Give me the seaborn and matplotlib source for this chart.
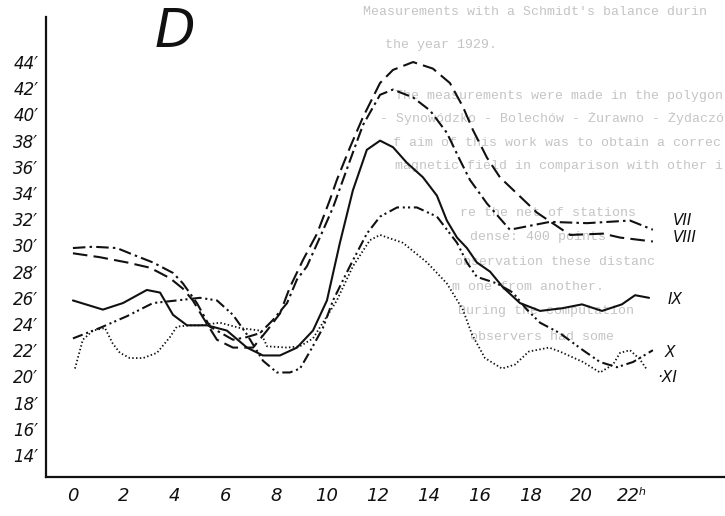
import numpy as np
import pandas as pd
import matplotlib
matplotlib.use("Agg")
import matplotlib.pyplot as plt
import seaborn as sns

# hours (h) and declination-like values (minutes of arc)
vii_h = [0, 0.79, 1.73, 2.36, 3.15, 3.94, 4.33, 4.88, 5.39, 6.3, 6.85, 7.36, 7.87, 8.43, 8.82,
         9.21, 9.72, 10.24, 10.91, 11.42, 12.09, 12.6, 13.39, 14.06, 14.72, 15.24, 15.63, 16.3,
         17.2, 18.78, 20.24, 21.93, 22.83]
vii_v = [29.8, 29.9, 29.8, 29.3, 28.7, 27.9, 27.1, 25.6, 23.8, 22.8, 23.0, 23.3, 24.3, 25.6, 27.4,
         28.4, 30.6, 32.9, 36.5, 39.2, 41.5, 41.9, 41.3, 40.3, 38.6, 36.5, 35.0, 33.2,
         31.2, 31.8, 31.7, 31.9, 31.2]

viii_h = [0, 1.06, 2.13, 3.03, 3.82, 4.33, 4.72, 5.12, 5.67, 6.3, 7.09, 7.64, 8.15, 8.54, 9.06,
          9.61, 10.12, 10.39, 10.91, 11.42, 12.09, 12.6, 13.39, 14.17, 14.84, 15.35, 15.75, 16.3,
          16.81, 18.27, 19.57, 20.87, 21.54, 22.83]
viii_v = [29.4, 29.1, 28.7, 28.3, 27.5, 26.7, 25.8, 24.5, 22.8, 22.2, 22.2, 23.5, 24.8, 26.8, 28.9,
          30.9, 33.5, 35.0, 37.5, 39.8, 42.4, 43.4, 44.0, 43.5, 42.4, 40.6, 38.8, 36.7,
          35.2, 32.5, 30.8, 30.9, 30.6, 30.3]

ix_h = [0, 1.18, 1.97, 2.91, 3.43, 3.94, 4.49, 5.28, 6.06, 6.85, 7.48, 8.15, 8.82, 9.45, 10.0,
        10.51, 11.02, 11.57, 12.09, 12.6, 13.15, 13.78, 14.33, 14.72, 15.12, 15.51, 15.9, 16.42,
        16.93, 17.6, 18.39, 19.25, 20.04, 20.83, 21.61, 22.13, 22.68]
ix_v = [25.8, 25.1, 25.6, 26.6, 26.4, 24.7, 23.9, 23.9, 23.5, 22.2, 21.6, 21.6, 22.2, 23.5, 25.8,
        30.2, 34.2, 37.3, 38.0, 37.5, 36.3, 35.2, 33.8, 31.9, 30.6, 29.8, 28.7, 28.0,
        26.8, 25.6, 25.0, 25.2, 25.5, 25.0, 25.5, 26.2, 26.0]

x_h = [0, 1.06, 2.13, 3.15, 4.09, 5.0, 5.67, 6.3, 6.85, 7.48, 8.03, 8.54, 8.94, 9.33, 9.84,
       10.24, 10.9, 11.57, 12.09, 12.76, 13.54, 14.33, 15.12, 15.51, 15.9, 16.69, 17.32, 17.87,
       18.39, 19.17, 20.08, 20.75, 21.42, 22.05, 22.83]
x_v = [22.9, 23.7, 24.6, 25.6, 25.8, 26.0, 25.8, 24.7, 23.2, 21.2, 20.3, 20.3, 20.6, 21.9, 23.7,
       25.8, 28.4, 30.9, 32.2, 32.9, 32.9, 32.2, 30.2, 28.7, 27.6, 27.1, 26.4, 25.1,
       24.1, 23.3, 22.0, 21.1, 20.7, 21.1, 22.0]

xi_h = [0.08, 0.39, 0.79, 1.26, 1.57, 1.85, 2.24, 2.76, 3.31, 3.82, 4.09, 4.61, 5.0, 5.79, 6.57,
        7.36, 7.64, 8.43, 8.94, 9.45, 10.39, 11.02, 11.69, 12.09, 12.99, 13.94, 14.72, 15.35,
        15.71, 16.22, 16.89, 17.4, 17.95, 18.74, 19.17, 20.08, 20.75, 21.26, 21.54, 21.93,
        22.32, 22.6]
xi_v = [20.6, 22.8, 23.5, 23.7, 22.5, 21.8, 21.4, 21.4, 21.8, 23.0, 23.8, 23.9, 23.9, 24.1, 23.7,
        23.5, 22.3, 22.2, 22.3, 22.9, 25.8, 28.4, 30.4, 30.8, 30.2, 28.7, 27.1, 25.1,
        23.2, 21.4, 20.6, 20.9, 21.9, 22.2, 21.9, 21.1, 20.3, 20.9, 21.8, 22.0,
        21.3, 20.5]

x_ticks = list(range(0, 25, 2))
x_labels = ["0", "2", "4", "6", "8", "10", "12", "14", "16", "18", "20", "22ʰ", ""]
y_ticks = list(range(14, 47, 2))
y_labels = [f"{v}′" for v in range(14, 45, 2)] + [""]

# faint text showing through from the scanned page (cut at the page edge)
ghost_lines = [
    (363, 12, "Measurements with a Schmidt's balance durin"),
    (385, 45, "the year 1929."),
    (395, 96, "The measurements were made in the polygon Sta"),
    (380, 119, "- Synowódzko - Bolechów - Żurawno - Żydaczów - Stryj"),
    (393, 143, "f aim of this work was to obtain a correct knowledge"),
    (395, 166, "magnetic field in comparison with other investigat"),
    (460, 213, "re the net of stations"),
    (470, 237, "dense: 400 points"),
    (455, 262, "observation these distanc"),
    (452, 287, "m one from another."),
    (458, 311, "During the computation"),
    (470, 337, "observers had some"),
]

frames = [
    pd.DataFrame({"h": vii_h, "v": vii_v, "s": "VII"}),
    pd.DataFrame({"h": viii_h, "v": viii_v, "s": "VIII"}),
    pd.DataFrame({"h": ix_h, "v": ix_v, "s": "IX"}),
    pd.DataFrame({"h": x_h, "v": x_v, "s": "X"}),
    pd.DataFrame({"h": xi_h, "v": xi_v, "s": "XI"}),
]
styles = {
    "VII": dict(linestyle=(0, (6, 2, 1.2, 2)), linewidth=1.5),
    "VIII": dict(linestyle=(0, (7, 3)), linewidth=1.5),
    "IX": dict(linestyle="-", linewidth=1.5),
    "X": dict(linestyle=(0, (5, 1.8, 1, 1.5, 1, 1.8)), linewidth=1.5),
    "XI": dict(linestyle=(0, (0.8, 1.3)), linewidth=1.3),
}
# label anchor (hour, value) for each curve end
label_pos = {"VII": (23.6, 31.9), "VIII": (23.6, 30.6), "IX": (23.4, 25.9),
             "X": (23.3, 21.8), "XI": (23.0, 19.9)}
label_text = {"VII": "VII", "VIII": "VIII", "IX": "IX", "X": "X", "XI": "·XI"}

sns.set_style("white")
plt.rcParams["font.family"] = ["DejaVu Sans"]

fig = plt.figure(figsize=(7.25, 5.16), dpi=100)
W, H = 725, 516
ax = fig.add_axes([46 / W, (H - 477) / H, 1 - 46 / W, (477 - 17) / H])
ax.patch.set_alpha(0)

ghost_size = 9.5
char_px = 0.6 * ghost_size * 100 / 72
for x0, y0, t in ghost_lines:
    n = int((W - x0 - 3) / char_px)
    fig.text(x0 / W, 1 - y0 / H, t[:n], ha="left", va="center", fontsize=ghost_size,
             family="Liberation Mono", color="#c4c4c4", zorder=-1)

for df in frames:
    name = df["s"].iloc[0]
    sns.lineplot(data=df, x="h", y="v", sort=False, estimator=None, ax=ax,
                 color="#111111", **styles[name])
    lx, ly = label_pos[name]
    ax.text(lx, ly, label_text[name], ha="left", va="center", fontsize=11,
            style="italic", color="#111111")

ax.set_xlim(-1.06, 25.67)
ax.set_ylim(12.32, 47.44)
ax.set_xticks(x_ticks)
ax.set_xticklabels(x_labels, fontsize=13, style="italic")
ax.set_yticks(y_ticks)
ax.set_yticklabels(y_labels, fontsize=12, style="italic")
ax.set_xlabel("")
ax.set_ylabel("")
ax.tick_params(axis="x", direction="in", length=5, width=1.2, pad=7, colors="#111111")
ax.tick_params(axis="y", direction="out", length=5, width=1.2, pad=0.5, colors="#111111")
for side in ["top", "right"]:
    ax.spines[side].set_visible(False)
for side in ["left", "bottom"]:
    ax.spines[side].set_linewidth(1.6)
    ax.spines[side].set_color("#111111")

fig.text(175 / W, 1 - 32 / H, "D", fontsize=38, style="italic", ha="center", va="center",
         color="#111111")

fig.savefig("out.png", dpi=100, facecolor="white")
